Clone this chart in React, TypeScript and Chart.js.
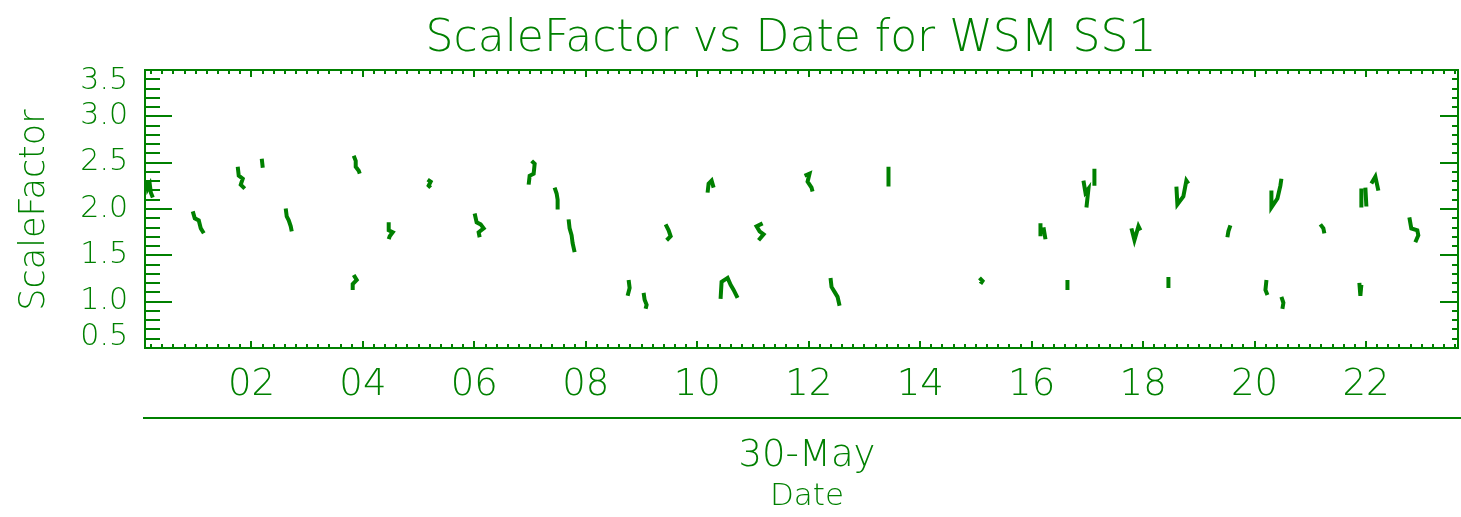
import React, { useEffect, useRef } from "react";
import { Chart, registerables } from "chart.js";

Chart.register(...registerables);

const GREEN = "#008000";
const FONT = "'DejaVu Sans', 'Liberation Sans', sans-serif";
const WEIGHT = 200;

const chartTitle = "ScaleFactor vs Date for WSM SS1";
const yAxisTitle = "ScaleFactor";
const xAxisTitle = "Date";
const dayLabel = "30-May";

const xRange = [0.09, 23.65];
const yRange = [0.5, 3.5];
const xMajorStep = 2;
const xMinorStep = 0.2;
const yMajorStep = 0.5;
const yMinorStep = 0.1;

// hour of day (30-May); null separates satellite passes
const hours: (number | null)[] = [
  0.122, 0.140, 0.176, 0.194, 0.230, null,
  0.947, 0.983, 1.055, 1.091, 1.145, null,
  1.754, 1.772, 1.844, 1.808, 1.880, null,
  2.185, 2.203, null,
  2.615, 2.633, 2.669, 2.705, 2.723, null,
  3.835, 3.871, 3.871, 3.925, 3.943, null,
  3.835, 3.889, 3.817, 3.817, null,
  4.463, 4.463, 4.535, 4.481, 4.463, null,
  5.162, 5.216, 5.180, 5.216, null,
  6.005, 6.041, 6.113, 6.167, 6.077, 6.095, null,
  7.028, 7.082, 7.064, 6.992, 6.974, null,
  7.440, 7.476, 7.494, 7.494, null,
  7.691, 7.709, 7.745, 7.763, 7.799, null,
  8.768, 8.786, 8.750, null,
  9.037, 9.055, 9.091, 9.073, null,
  9.432, 9.486, 9.522, 9.450, null,
  10.185, 10.203, 10.257, 10.293, null,
  10.418, 10.436, 10.544, 10.598, 10.652, 10.723, null,
  11.172, 11.064, 11.118, 11.190, 11.100, null,
  11.925, 12.014, 11.979, 12.050, 12.068, null,
  12.391, 12.409, 12.463, 12.517, 12.553, null,
  13.431, 13.431, null,
  15.064, 15.118, 15.082, null,
  16.158, 16.158, null,
  16.212, 16.248, null,
  16.642, 16.642, null,
  16.929, 16.965, 17.019, 16.983, null,
  17.126, 17.126, null,
  17.790, 17.844, 17.916, 17.952, null,
  18.454, 18.454, null,
  18.597, 18.615, 18.722, 18.776, 18.812, null,
  19.566, 19.530, 19.512, null,
  20.213, 20.195, 20.231, null,
  20.481, 20.517, 20.499, null,
  20.302, 20.302, 20.410, 20.463, 20.481, null,
  21.180, 21.234, 21.252, null,
  21.880, 21.898, 21.916, null,
  21.916, 21.916, null,
  21.988, 22.006, null,
  22.095, 22.167, 22.221, null,
  22.777, 22.812, 22.920, 22.938, 22.884,
];

const scaleFactor: (number | null)[] = [
  2.306, 2.220, 2.263, 2.177, 2.124, null,
  1.974, 1.899, 1.877, 1.791, 1.738, null,
  2.456, 2.359, 2.327, 2.263, 2.220, null,
  2.542, 2.445, null,
  2.006, 1.920, 1.877, 1.813, 1.759, null,
  2.574, 2.520, 2.456, 2.413, 2.381, null,
  1.288, 1.234, 1.191, 1.127, null,
  1.856, 1.770, 1.749, 1.706, 1.674, null,
  2.317, 2.295, 2.252, 2.231, null,
  1.952, 1.856, 1.834, 1.791, 1.749, 1.695, null,
  2.520, 2.488, 2.381, 2.359, 2.263, null,
  2.231, 2.167, 2.102, 1.995, null,
  1.888, 1.791, 1.716, 1.631, 1.534, null,
  1.234, 1.148, 1.063, null,
  1.095, 1.020, 0.966, 0.923, null,
  1.834, 1.770, 1.706, 1.663, null,
  2.177, 2.274, 2.306, 2.231, null,
  1.031, 1.213, 1.256, 1.181, 1.127, 1.041, null,
  1.845, 1.813, 1.759, 1.727, 1.663, null,
  2.359, 2.381, 2.295, 2.231, 2.188, null,
  1.256, 1.159, 1.106, 1.052, 0.956, null,
  2.456, 2.242, null,
  1.256, 1.223, 1.191, null,
  1.845, 1.706, null,
  1.802, 1.674, null,
  1.234, 1.127, null,
  2.306, 2.177, 2.220, 2.017, null,
  2.434, 2.252, null,
  1.791, 1.663, 1.813, 1.770, null,
  1.267, 1.148, null,
  2.242, 2.049, 2.135, 2.306, 2.274, null,
  1.824, 1.759, 1.695, null,
  1.234, 1.127, 1.073, null,
  1.052, 0.988, 0.923, null,
  2.199, 2.017, 2.113, 2.252, 2.327, null,
  1.834, 1.791, 1.738, null,
  1.202, 1.063, 1.181, null,
  2.220, 2.017, null,
  2.231, 2.027, null,
  2.274, 2.349, 2.199, null,
  1.909, 1.791, 1.770, 1.716, 1.641,
];

const idlFrame = {
  id: "idlFrame",
  afterDraw(chart: any) {
    const { ctx, chartArea: a, scales } = chart;
    const xs = scales.x;
    const ys = scales.y;
    ctx.save();
    ctx.strokeStyle = GREEN;
    ctx.lineWidth = 2;
    ctx.strokeRect(a.left, a.top, a.right - a.left, a.bottom - a.top);
    ctx.beginPath();
    const nY = Math.round((yRange[1] - yRange[0]) / yMinorStep);
    const perMajorY = Math.round(yMajorStep / yMinorStep);
    for (let i = 0; i <= nY; i++) {
      const v = yRange[0] + i * yMinorStep;
      const p = Math.round(ys.getPixelForValue(v));
      const major = i % perMajorY === 0;
      ctx.moveTo(a.left, p);
      ctx.lineTo(a.left + (major ? 27 : 15), p);
      ctx.moveTo(a.right, p);
      ctx.lineTo(a.right - (major ? 18 : 6), p);
    }
    const perMajorX = Math.round(xMajorStep / xMinorStep);
    const k0 = Math.ceil(xRange[0] / xMinorStep);
    const k1 = Math.floor(xRange[1] / xMinorStep);
    for (let k = k0; k <= k1; k++) {
      const v = k * xMinorStep;
      const p = Math.round(xs.getPixelForValue(v));
      const major = k % perMajorX === 0;
      ctx.moveTo(p, a.top);
      ctx.lineTo(p, a.top + (major ? 7 : 4));
      ctx.moveTo(p, a.bottom);
      ctx.lineTo(p, a.bottom - (major ? 7 : 4));
    }
    ctx.stroke();

    // separator line under the tick labels
    ctx.beginPath();
    ctx.moveTo(a.left - 2, 418);
    ctx.lineTo(chart.width, 418);
    ctx.stroke();

    ctx.fillStyle = GREEN;
    ctx.textAlign = "center";
    ctx.textBaseline = "middle";
    ctx.font = `${WEIGHT} 44px ${FONT}`;
    ctx.fillText(chartTitle, 791, 40);
    ctx.font = `${WEIGHT} 37px ${FONT}`;
    ctx.fillText(dayLabel, 807, 456);
    ctx.font = `${WEIGHT} 31px ${FONT}`;
    ctx.fillText(xAxisTitle, 807, 497);
    ctx.translate(35, 210);
    ctx.rotate(-Math.PI / 2);
    ctx.font = `${WEIGHT} 35px ${FONT}`;
    ctx.fillText(yAxisTitle, 0, 0);
    ctx.restore();
  },
};

export default function App() {
  const ref = useRef<HTMLCanvasElement>(null);
  useEffect(() => {
    if (!ref.current) return;
    const points = hours.map((h, i) =>
      h === null || scaleFactor[i] === null ? { x: NaN, y: NaN } : { x: h, y: scaleFactor[i] as number }
    );
    const chart = new Chart(ref.current, {
      type: "scatter",
      data: {
        datasets: [
          {
            label: "ScaleFactor",
            data: points,
            showLine: true,
            spanGaps: false,
            borderColor: GREEN,
            backgroundColor: GREEN,
            borderWidth: 4,
            pointRadius: 0,
            tension: 0,
          },
        ],
      },
      options: {
        animation: false,
        responsive: false,
        devicePixelRatio: 1,
        layout: { padding: { top: 70, right: 3, left: 0, bottom: 0 } },
        plugins: { legend: { display: false }, title: { display: false }, tooltip: { enabled: false } },
        scales: {
          x: {
            type: "linear",
            min: xRange[0],
            max: xRange[1],
            grid: { display: false, drawTicks: false },
            border: { display: false },
            afterFit: (s: any) => {
              s.height = 169;
            },
            ticks: {
              stepSize: xMajorStep,
              includeBounds: false,
              autoSkip: false,
              maxRotation: 0,
              minRotation: 0,
              padding: 15,
              color: GREEN,
              font: { family: FONT, size: 37, weight: WEIGHT },
              callback: (v: any) => String(v).padStart(2, "0"),
            },
          },
          y: {
            type: "linear",
            min: yRange[0],
            max: yRange[1],
            grid: { display: false, drawTicks: false },
            border: { display: false },
            afterFit: (s: any) => {
              s.width = 145;
            },
            ticks: {
              stepSize: yMajorStep,
              autoSkip: false,
              padding: 17,
              color: GREEN,
              font: { family: FONT, size: 30, weight: WEIGHT, lineHeight: 0.75 },
              callback: (v: any) => {
                const t = Number(v).toFixed(1);
                if (Number(v) >= yRange[1]) return ["", t];
                if (Number(v) <= yRange[0]) return [t, ""];
                return t;
              },
            },
          },
        },
      },
      plugins: [idlFrame],
    });
    return () => chart.destroy();
  }, []);
  return (
    <div style={{ position: "fixed", left: 0, top: 0, width: 1461, height: 517, background: "#fff" }}>
      <canvas ref={ref} width={1461} height={517} style={{ width: 1461, height: 517 }} />
    </div>
  );
}
